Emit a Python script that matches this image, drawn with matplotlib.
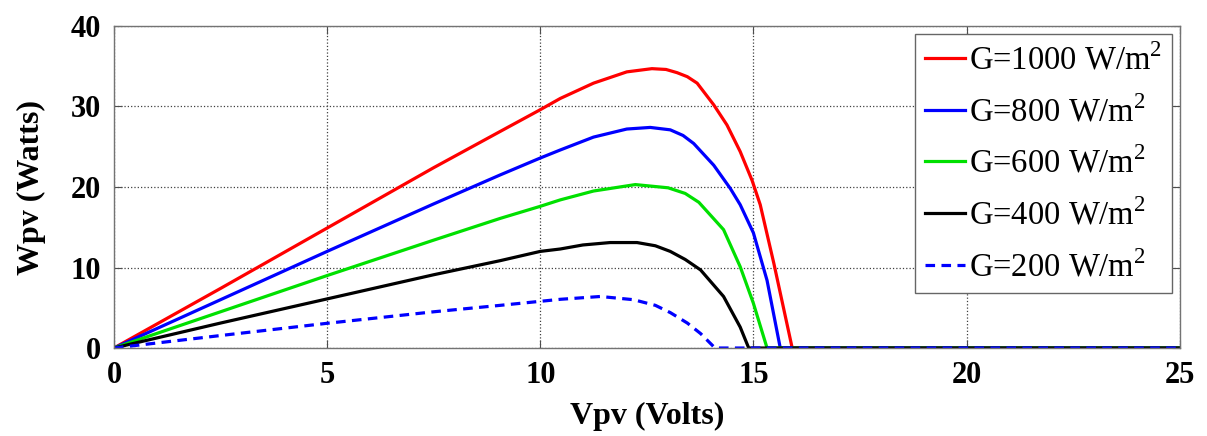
import numpy as np
import matplotlib
matplotlib.use("Agg")
import matplotlib.pyplot as plt

# PV power curves (volts, watts)
v_1000 = [0, 2.5, 5, 7.5, 9.06, 10, 10.47, 11.25, 12.03, 12.62, 12.95, 13.21, 13.45,
          13.68, 14.07, 14.38, 14.69, 14.97, 15.16, 15.48, 15.91, 25]
w_1000 = [0, 7.4, 14.9, 22.4, 26.9, 29.6, 31.0, 32.9, 34.3, 34.7, 34.6, 34.2, 33.7,
          32.9, 30.2, 27.7, 24.4, 20.8, 17.8, 10.5, 0, 0]

v_800 = [0, 2.5, 5, 7.5, 9.06, 10, 10.47, 11.25, 12.03, 12.58, 13.05, 13.35, 13.6,
         14.07, 14.46, 14.69, 15.0, 15.32, 15.63, 25]
w_800 = [0, 6.0, 12.0, 17.9, 21.5, 23.6, 24.6, 26.2, 27.2, 27.4, 27.1, 26.4, 25.4,
         22.7, 19.8, 17.8, 14.3, 8.4, 0, 0]

v_600 = [0, 2.5, 5, 7.5, 9.06, 10, 10.47, 11.25, 12.23, 13.0, 13.4, 13.72, 14.3,
         14.69, 15.0, 15.32, 25]
w_600 = [0, 4.5, 9.0, 13.4, 16.1, 17.6, 18.4, 19.5, 20.3, 19.9, 19.2, 18.1, 14.7,
         10.1, 5.55, 0, 0]

v_400 = [0, 2.5, 5, 7.5, 9.06, 10, 10.47, 11.0, 11.64, 12.27, 12.7, 13.05, 13.4,
         13.76, 14.3, 14.69, 14.89, 25]
w_400 = [0, 3.1, 6.1, 9.1, 10.85, 12.0, 12.3, 12.8, 13.1, 13.1, 12.7, 12.0, 11.0,
         9.7, 6.4, 2.6, 0, 0]

v_200 = [0, 2.5, 5, 7.5, 9.06, 10, 10.47, 11.41, 12.19, 12.7, 13.05, 13.45, 13.76,
         14.1, 25]
w_200 = [0, 1.55, 3.07, 4.5, 5.3, 5.8, 6.05, 6.4, 6.0, 5.3, 4.4, 3.1, 1.8, 0, 0]

labels = ["G=1000 W/m$^2$", "G=800 W/m$^2$", "G=600 W/m$^2$",
          "G=400 W/m$^2$", "G=200 W/m$^2$"]

plt.rcParams['font.family'] = ['Liberation Serif', 'DejaVu Serif']
plt.rcParams['mathtext.fontset'] = 'custom'
plt.rcParams['mathtext.rm'] = 'Liberation Serif'

fig = plt.figure(figsize=(12.07, 4.36), dpi=100)
ax = fig.add_axes([0.0944, 0.2018, 0.883, 0.7386])

ax.plot(v_1000, w_1000, color='#ff0000', lw=2.3, label=labels[0])
ax.plot(v_800, w_800, color='#0000ff', lw=2.3, label=labels[1])
ax.plot(v_600, w_600, color='#00e000', lw=2.3, label=labels[2])
ax.plot(v_400, w_400, color='black', lw=2.3, label=labels[3])
ax.plot(v_200, w_200, color='#0000ff', lw=2.3, ls=(0, (3, 2)), label=labels[4])

ax.set_xlim(0, 25)
ax.set_ylim(0, 40)
ax.set_xticks([0, 5, 10, 15, 20, 25])
ax.set_yticks([0, 10, 20, 30, 40])
ax.grid(True, ls=':', color='0.25', lw=0.9)
ax.tick_params(direction='in', top=True, right=True, length=6,
               labelsize=22, pad=9, color='0.3')
for lab in ax.get_xticklabels() + ax.get_yticklabels():
    lab.set_fontweight('bold')
for s in ax.spines.values():
    s.set_color('0.45')
    s.set_linewidth(1.0)

ax.set_xlabel("Vpv (Volts)", fontsize=23, fontweight='bold', labelpad=9)
ax.set_ylabel("Wpv (Watts)", fontsize=23, fontweight='bold', labelpad=18)

leg = ax.legend(loc='upper right', fontsize=23.5, handlelength=1.25,
                handletextpad=0.1, labelspacing=0.58, borderaxespad=0.25,
                fancybox=False, framealpha=1, edgecolor='0.4',
                borderpad=0.3)
leg.get_frame().set_linewidth(1.0)

fig.savefig("out.png", dpi=100)
